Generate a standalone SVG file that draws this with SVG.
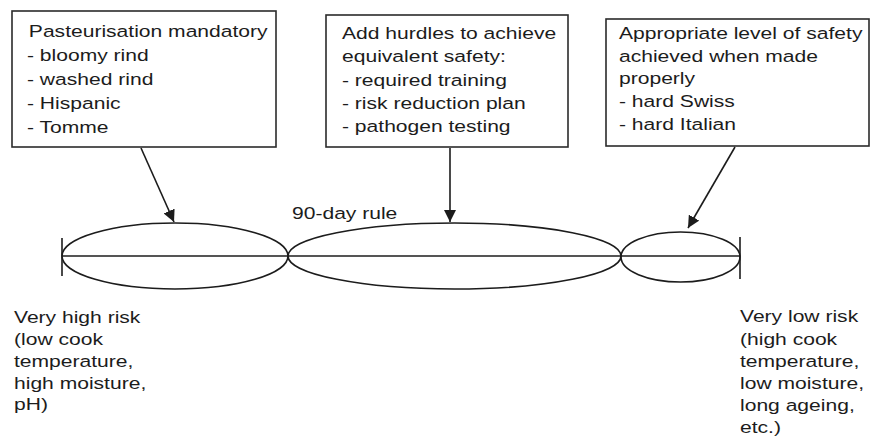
<svg xmlns="http://www.w3.org/2000/svg" width="871" height="443" viewBox="0 0 871 443">
  <style>
    .box { fill: #ffffff; stroke: #2b2b2b; stroke-width: 1.6; }
    .t { font-family: "Liberation Sans", Arial, sans-serif; font-size: 17px; fill: #1c1c1c; }
    .shape { fill: none; stroke: #1c1c1c; stroke-width: 1.6; }
    .conn { fill: none; stroke: #1c1c1c; stroke-width: 1.6; marker-end: url(#head); }
  </style>
  <defs>
    <marker id="head" viewBox="0 0 10 10" refX="10" refY="5" markerWidth="12" markerHeight="12" markerUnits="userSpaceOnUse" orient="auto">
      <path d="M0,0 L10,5 L0,10 Z" fill="#1c1c1c"/>
    </marker>
  </defs>
  <rect width="871" height="443" fill="#ffffff"/>

  <!-- risk scale: axis, end ticks and the three zones -->
  <g id="scale">
    <line class="shape" x1="62" y1="256" x2="740" y2="256"/>
    <line class="shape" x1="62" y1="238" x2="62" y2="276"/>
    <line class="shape" x1="740" y1="237" x2="740" y2="279"/>
    <ellipse class="shape" cx="175" cy="256" rx="113" ry="33"/>
    <ellipse class="shape" cx="454.5" cy="256" rx="166.5" ry="33"/>
    <ellipse class="shape" cx="680.5" cy="257" rx="59.5" ry="25"/>
    <text class="t" transform="translate(292 0) scale(1.24 1)"><tspan x="0" y="219">90-day rule</tspan></text>
  </g>

  <g id="box-pasteurisation">
    <rect class="box" x="12" y="11" width="264" height="136"/>
    <text class="t" transform="translate(27 0) scale(1.24 1)">
      <tspan x="1.5" y="37">Pasteurisation mandatory</tspan>
      <tspan x="0" y="61">- bloomy rind</tspan>
      <tspan x="0" y="85">- washed rind</tspan>
      <tspan x="0" y="109">- Hispanic</tspan>
      <tspan x="0" y="133">- Tomme</tspan>
    </text>
  </g>

  <g id="box-hurdles">
    <rect class="box" x="326" y="15" width="242" height="132"/>
    <text class="t" transform="translate(342 0) scale(1.24 1)">
      <tspan x="0" y="39">Add hurdles to achieve</tspan>
      <tspan x="0" y="62.5">equivalent safety:</tspan>
      <tspan x="0" y="86">- required training</tspan>
      <tspan x="0" y="109">- risk reduction plan</tspan>
      <tspan x="0" y="132">- pathogen testing</tspan>
    </text>
  </g>

  <g id="box-safety">
    <rect class="box" x="606" y="19" width="263" height="127"/>
    <text class="t" transform="translate(619 0) scale(1.24 1)">
      <tspan x="0" y="39">Appropriate level of safety</tspan>
      <tspan x="0" y="62">achieved when made</tspan>
      <tspan x="0" y="84.5">properly</tspan>
      <tspan x="0" y="107">- hard Swiss</tspan>
      <tspan x="0" y="130">- hard Italian</tspan>
    </text>
  </g>

  <g id="label-high-risk">
    <text class="t" transform="translate(14 0) scale(1.24 1)">
      <tspan x="0" y="323">Very high risk</tspan>
      <tspan x="0" y="345">(low cook</tspan>
      <tspan x="0" y="367">temperature,</tspan>
      <tspan x="0" y="389">high moisture,</tspan>
      <tspan x="0" y="410">pH)</tspan>
    </text>
  </g>

  <g id="label-low-risk">
    <text class="t" transform="translate(740 0) scale(1.24 1)">
      <tspan x="0" y="322">Very low risk</tspan>
      <tspan x="0" y="345">(high cook</tspan>
      <tspan x="0" y="367">temperature,</tspan>
      <tspan x="0" y="389">low moisture,</tspan>
      <tspan x="0" y="411">long ageing,</tspan>
      <tspan x="0" y="433">etc.)</tspan>
    </text>
  </g>

  <g id="connectors">
    <line class="conn" x1="141" y1="148" x2="174" y2="222"/>
    <line class="conn" x1="450" y1="148" x2="450" y2="222"/>
    <line class="conn" x1="735" y1="147" x2="688" y2="228"/>
  </g>
</svg>
